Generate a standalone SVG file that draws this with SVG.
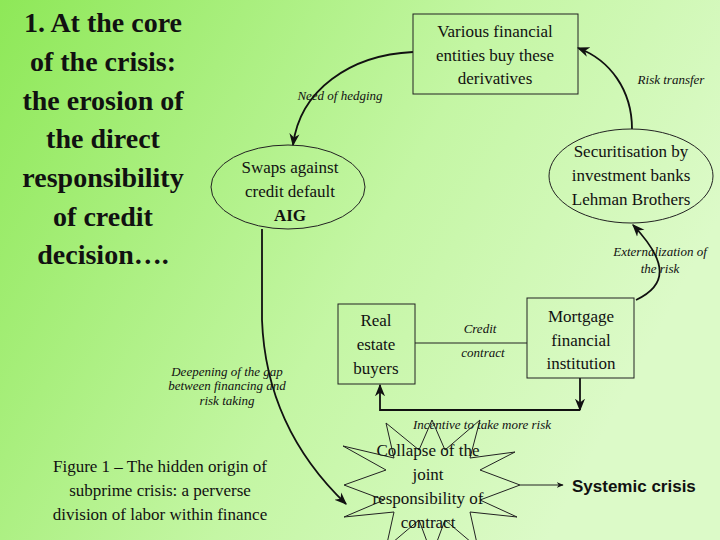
<svg xmlns="http://www.w3.org/2000/svg" width="720" height="540" viewBox="0 0 720 540">
<defs>
<linearGradient id="bg" x1="0" y1="0" x2="1" y2="0.4">
<stop offset="0" stop-color="#8ee858"/><stop offset="0.6" stop-color="#c4f6a4"/><stop offset="1" stop-color="#dcfac8"/>
</linearGradient>
<marker id="ah" viewBox="0 0 10 10" refX="9" refY="5" markerWidth="7" markerHeight="7" orient="auto-start-reverse"><path d="M0,1 L10,5 L0,9 L3,5 z" fill="#111"/></marker>
<style>
.t{fill:#111;text-anchor:middle}
.i{font-style:italic;fill:#111;text-anchor:middle;font-size:13px}
.n{fill:none;stroke:#222;stroke-width:1}
.c{fill:none;stroke:#111;stroke-width:1.8}
</style>
</defs>
<rect width="720" height="540" fill="url(#bg)"/>
<g font-family="'Liberation Serif','DejaVu Serif',serif">
<g id="title" class="t" font-size="28" font-weight="bold">
<text x="103" y="32">1. At the core</text><text x="103" y="71">of the crisis:</text><text x="103" y="110">the erosion of</text><text x="103" y="148">the direct</text><text x="103" y="187">responsibility</text><text x="103" y="226">of credit</text><text x="103" y="264">decision….</text>
</g>
<g id="caption" class="t" font-size="17">
<text x="160" y="472">Figure 1 – The hidden origin of</text><text x="160" y="496">subprime crisis: a perverse</text><text x="160" y="520">division of labor within finance</text>
</g>
<g id="connectors">
<path class="c" d="M413,52 C350,55 300,90 293,145" marker-end="url(#ah)"/>
<path class="c" d="M632,129 C632,90 610,60 578,48" marker-end="url(#ah)"/>
<path class="c" d="M636,300 C668,285 668,262 633,225" marker-end="url(#ah)"/>
<path class="c" d="M262,229 L262,320 C265,400 300,460 346,504" marker-end="url(#ah)"/>
<line class="n" x1="415" y1="343" x2="527" y2="343"/>
<path class="c" d="M580,378 L580,410" marker-end="url(#ah)"/>
<path class="c" d="M580,410 L380,410 L380,385" marker-end="url(#ah)"/>
<line class="n" x1="520" y1="485" x2="563" y2="485" marker-end="url(#ah)"/>
</g>
<g id="labels">
<text class="i" x="340" y="100">Need of hedging</text>
<text class="i" x="671" y="84">Risk transfer</text>
<text class="i" x="660" y="256">Externalization of</text>
<text class="i" x="660" y="273">the risk</text>
<text class="i" x="480" y="333">Credit</text>
<text class="i" x="483" y="357">contract</text>
<text class="i" x="482" y="429">Incentive to take more risk</text>
<text class="i" x="227" y="376">Deepening of the gap</text>
<text class="i" x="227" y="390">between financing and</text>
<text class="i" x="227" y="405">risk taking</text>
</g>
<g id="various">
<rect class="n" x="413" y="14" width="165" height="80"/>
<text class="t" font-size="17" x="495" y="37">Various financial</text><text class="t" font-size="17" x="495" y="61">entities buy these</text><text class="t" font-size="17" x="495" y="84">derivatives</text>
</g>
<g id="swaps">
<ellipse class="n" cx="288" cy="187" rx="77" ry="42" fill="#b8eaa0" fill-opacity="0.5"/>
<text class="t" font-size="17" x="290" y="173">Swaps against</text><text class="t" font-size="17" x="290" y="197">credit default</text><text class="t" font-size="17" x="290" y="221" font-weight="bold">AIG</text>
</g>
<g id="secur">
<ellipse class="n" cx="631" cy="176" rx="82" ry="47"/>
<text class="t" font-size="17" x="631" y="157">Securitisation by</text><text class="t" font-size="17" x="631" y="181">investment banks</text><text class="t" font-size="17" x="631" y="205">Lehman Brothers</text>
</g>
<g id="real">
<rect class="n" x="338" y="304" width="77" height="80"/>
<text class="t" font-size="17" x="376" y="326">Real</text><text class="t" font-size="17" x="376" y="350">estate</text><text class="t" font-size="17" x="376" y="374">buyers</text>
</g>
<g id="mortgage">
<rect class="n" x="527" y="298" width="107" height="80"/>
<text class="t" font-size="17" x="581" y="322">Mortgage</text><text class="t" font-size="17" x="581" y="346">financial</text><text class="t" font-size="17" x="581" y="369">institution</text>
</g>
<g id="collapse">
<polygon class="n" fill="#c8f0b0" fill-opacity="0.5" points="520,485 480,500 517,517 470,512 478,548 445,520 432,555 419,520 386,548 394,512 344,517 384,500 344,485 386,470 343,446 394,458 386,423 419,450 432,420 445,450 480,420 470,458 515,452 480,470"/>
<text class="t" font-size="17" x="428" y="456">Collapse of the</text><text class="t" font-size="17" x="428" y="480">joint</text><text class="t" font-size="17" x="428" y="504">responsibility of</text><text class="t" font-size="17" x="428" y="528">contract</text>
</g>
</g>
<g id="systemic">
<text x="572" y="492" font-family="'Liberation Sans',Arial,sans-serif" font-weight="bold" font-size="17" fill="#111">Systemic crisis</text>
</g>
</svg>
